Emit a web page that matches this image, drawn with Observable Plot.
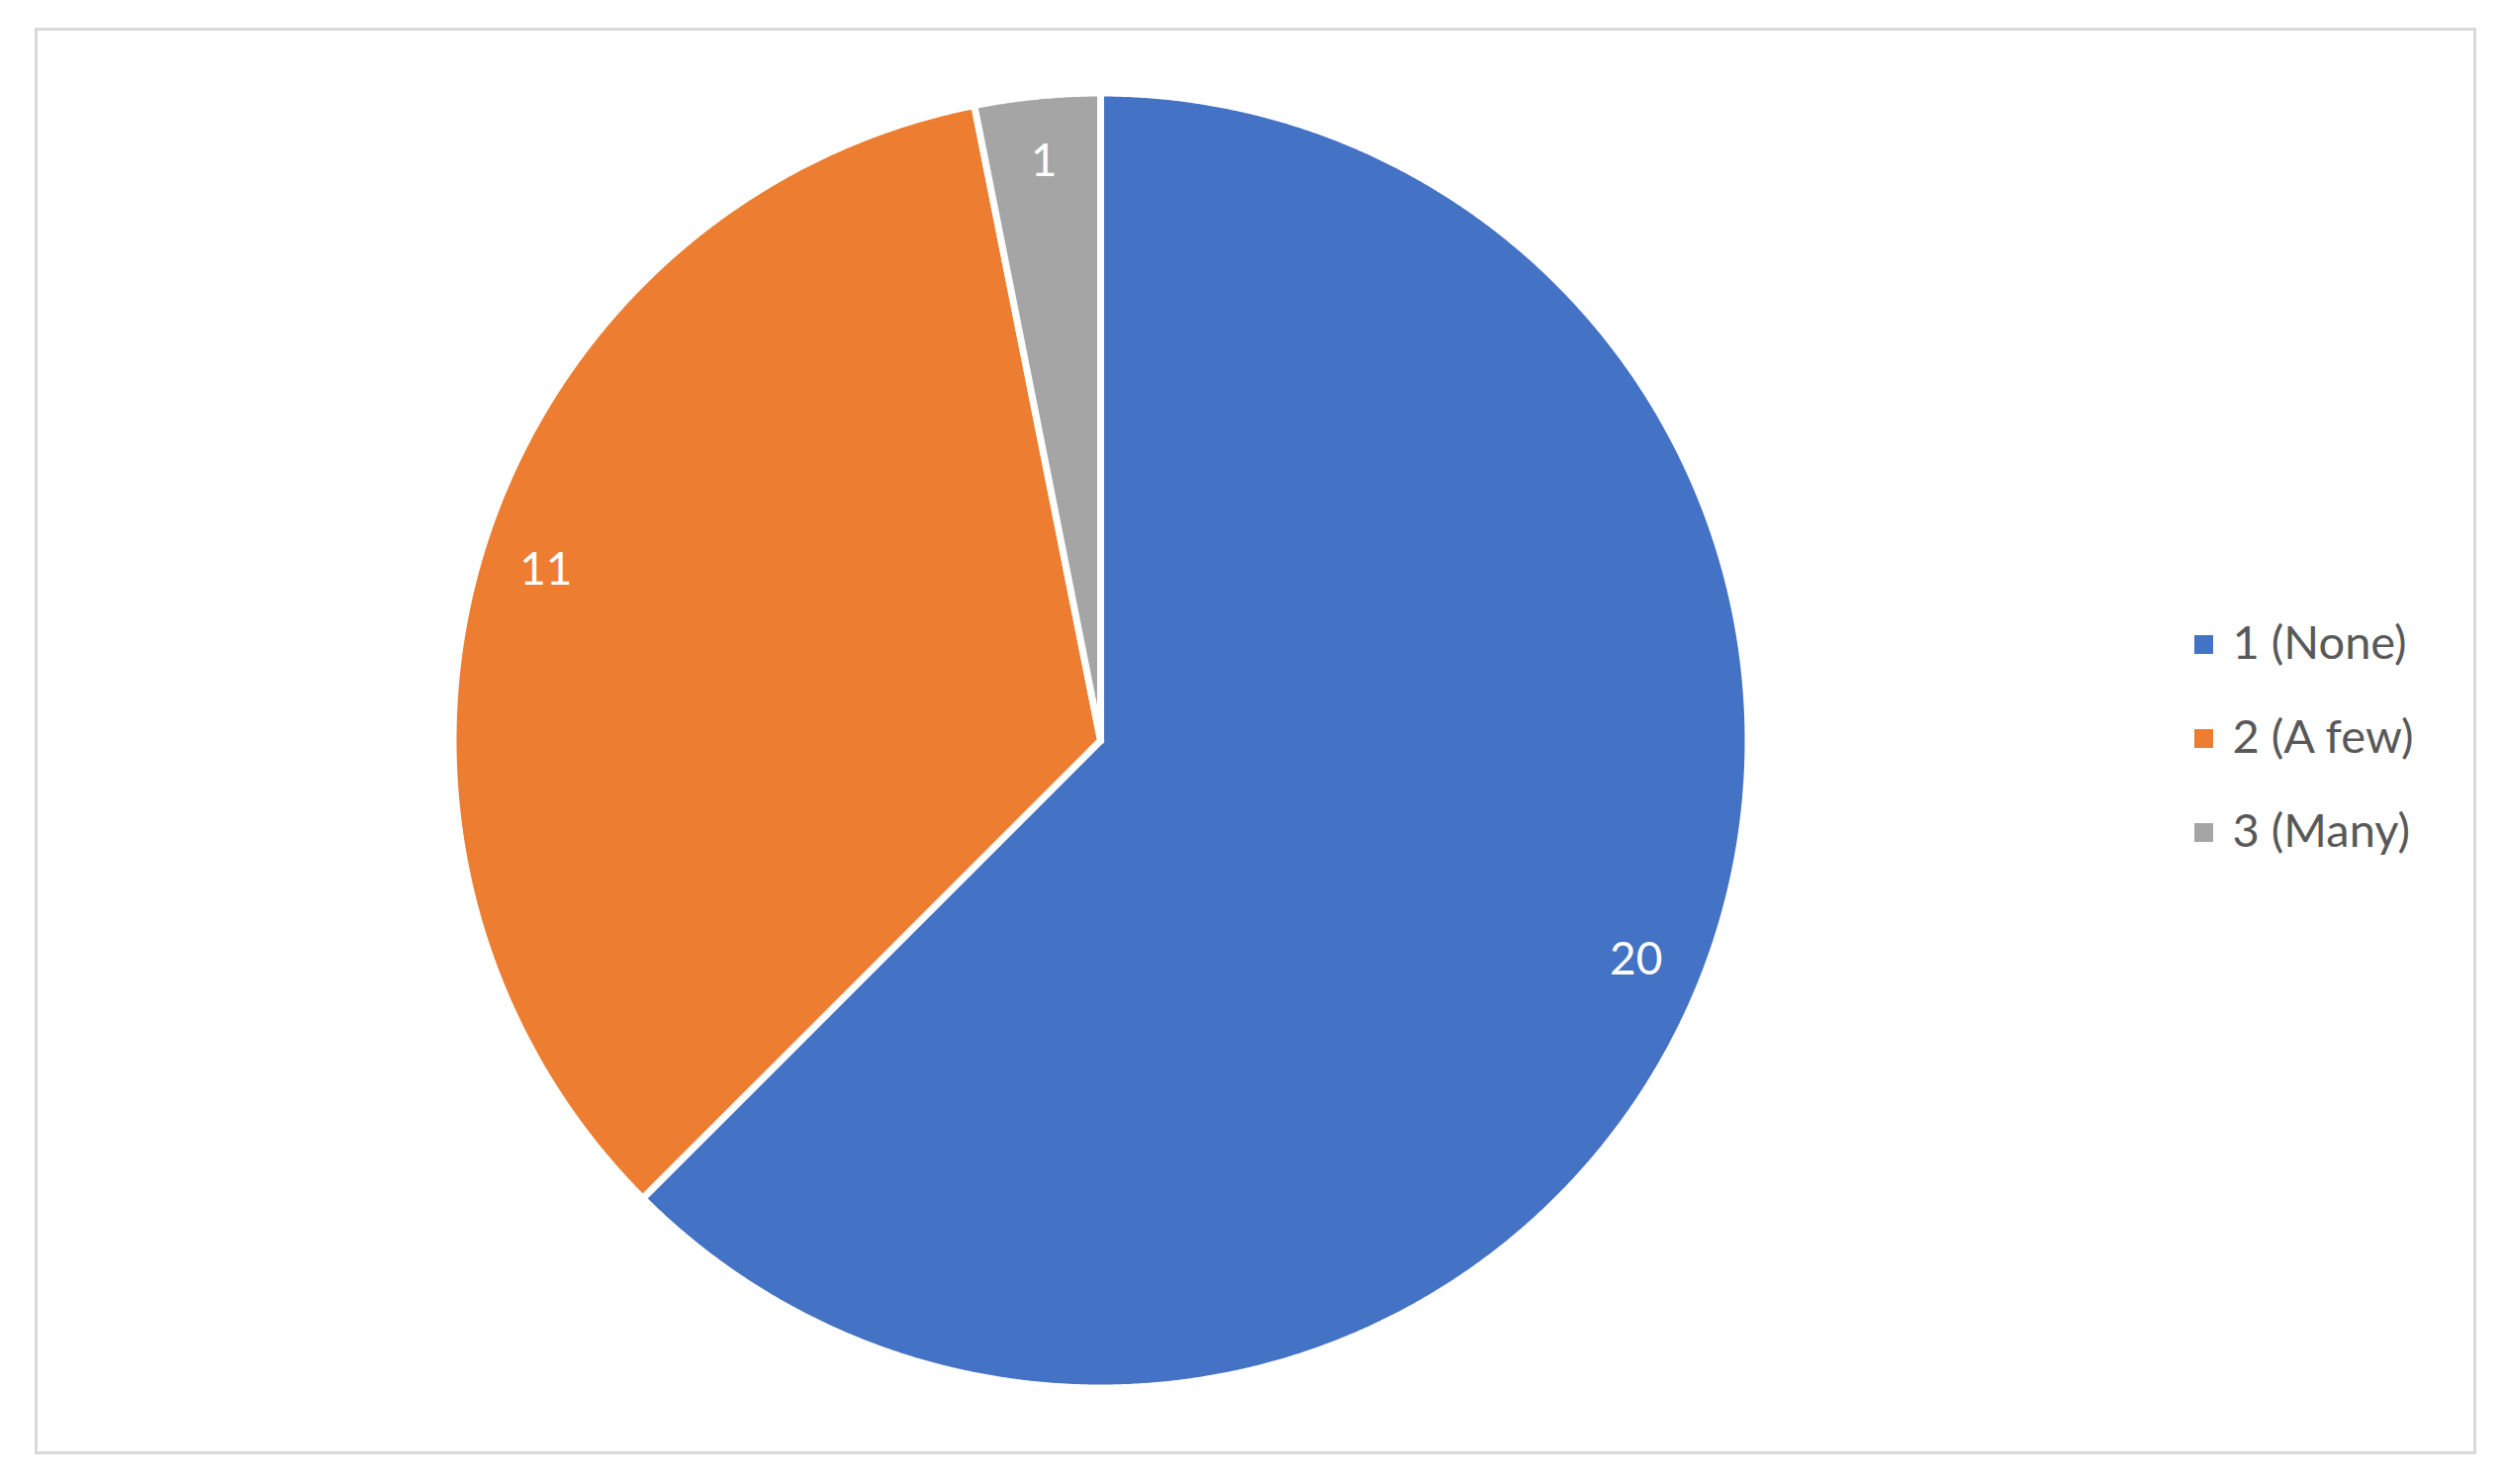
<!DOCTYPE html>
<html><head><meta charset="utf-8">
<script src="https://cdn.jsdelivr.net/npm/d3@7"></script>
<script src="https://cdn.jsdelivr.net/npm/@observablehq/plot@0.6"></script>
<style>
html,body{margin:0;padding:0;background:#fff;}
#wrap{position:relative;width:2532px;height:1500px;overflow:hidden;}
#frame{position:absolute;left:35px;top:28px;width:2462px;height:1436px;border:3px solid #d9d9d9;}
#chart{position:absolute;left:0;top:0;}
#legend{position:absolute;left:2200px;top:600px;}
</style></head><body>
<div id="wrap"><div id="frame"></div><div id="chart"></div><div id="legend"></div></div>
<script>
// ---- data ----
const categories = ["1 (None)", "2 (A few)", "3 (Many)"];
const values = [20, 11, 1];
const colors = ["#4472C4", "#ED7D31", "#A5A5A5"];

// ---- layout ----
const W = 2532, H = 1500, CX = 1112, CY = 748, R = 651, SW = 7;
const FONT = "Lato, 'Open Sans', sans-serif";

const rows = categories.map((c, i) => ({category: c, value: values[i]}));
const arcs = d3.pie().sort(null).value(d => d.value)(rows);
const k = 1 + (SW / 2) / R;
const poly = [];
arcs.forEach(a => {
  const c = a.data.category;
  const n = Math.max(2, Math.ceil((a.endAngle - a.startAngle) / (Math.PI / 720)));
  poly.push({category: c, u: 0, v: 0});
  for (let j = 0; j <= n; j++) {
    const t = a.startAngle + (a.endAngle - a.startAngle) * j / n;
    poly.push({category: c, u: k * Math.sin(t), v: k * Math.cos(t)});
  }
  poly.push({category: c, u: 0, v: 0});
});
const labels = arcs.map(a => {
  const m = (a.startAngle + a.endAngle) / 2;
  return {label: String(a.data.value), u: 0.9 * Math.sin(m), v: 0.9 * Math.cos(m)};
});

const chart = Plot.plot({
  width: W, height: H,
  margin: 0,
  x: {domain: [-CX / R, (W - CX) / R], axis: null},
  y: {domain: [-(H - CY) / R, CY / R], axis: null},
  color: {domain: categories, range: colors},
  style: {background: "transparent", fontFamily: FONT},
  marks: [
    Plot.line(poly, {x: "u", y: "v", z: "category", fill: "category", stroke: "white", strokeWidth: SW, strokeLinejoin: "miter", strokeMiterlimit: 4}),
    Plot.text(labels, {x: "u", y: "v", text: "label", fill: "white", fontSize: 46, fontFamily: FONT, dy: -2})
  ]
});
document.getElementById("chart").appendChild(chart);

const legend = Plot.plot({
  width: 330, height: 290,
  margin: 0,
  y: {domain: categories, type: "point", range: [51, 241], padding: 0, axis: null},
  color: {domain: categories, range: colors},
  style: {background: "transparent", fontFamily: FONT},
  marks: [
    Plot.dot(rows, {y: "category", fill: "category", symbol: "square", r: 10.7, frameAnchor: "left", dx: 27}),
    Plot.text(rows, {y: "category", text: "category", frameAnchor: "left", dx: 56, dy: -1, textAnchor: "start", fill: "#595959", fontSize: 47, fontFamily: FONT})
  ]
});
document.getElementById("legend").appendChild(legend);
</script>
</body></html>
